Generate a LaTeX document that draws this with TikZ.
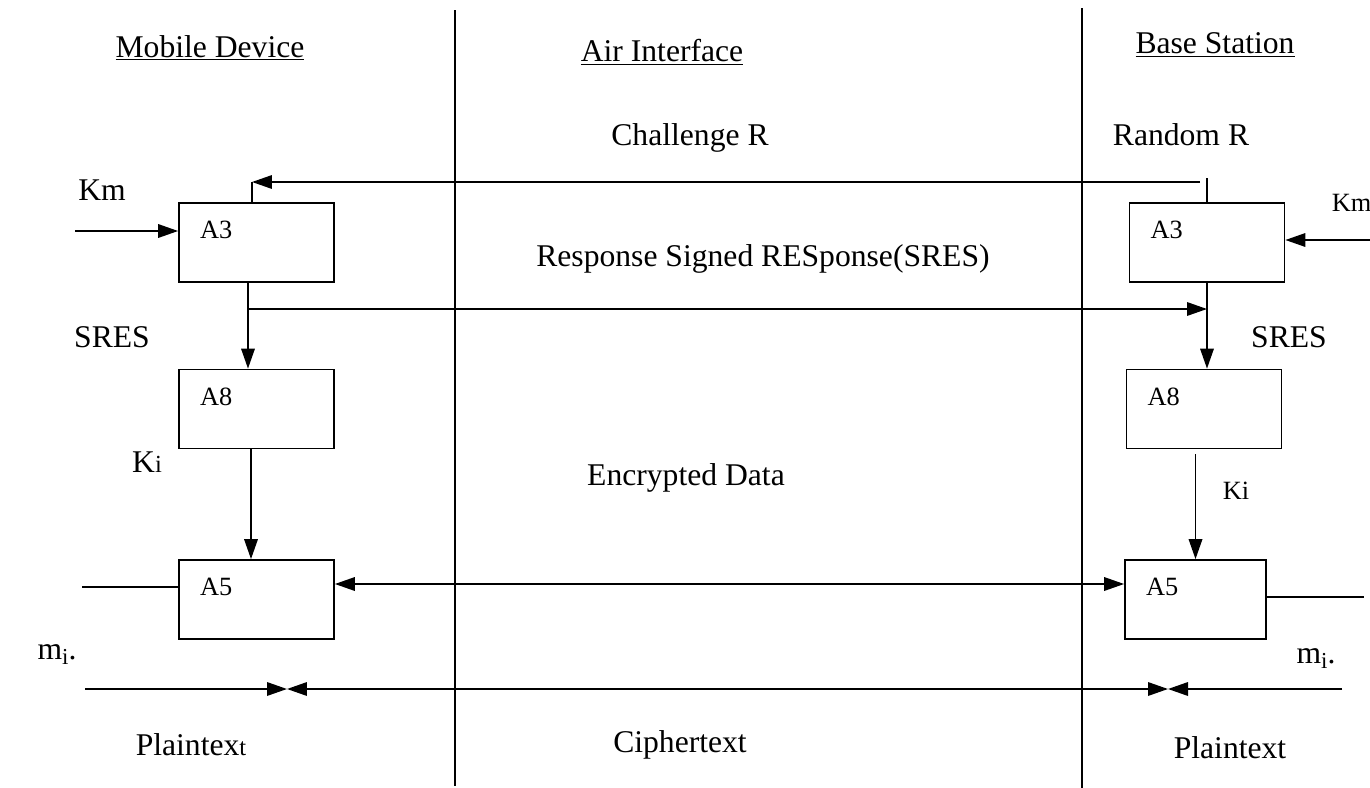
\documentclass[tikz,border=0pt]{standalone}
\usepackage{fontspec}
\setmainfont{Liberation Serif}
\usetikzlibrary{arrows.meta}

\tikzset{
  blockbox/.style={draw, line width=1pt, minimum width=3.1cm, minimum height=1.58cm, inner sep=0pt},
  boxname/.style={anchor=west, inner sep=0pt, font=\fontsize{15}{18}\selectfont},
  txt/.style={inner sep=0pt, font=\fontsize{18}{22}\selectfont},
  smalltxt/.style={inner sep=0pt, font=\fontsize{15}{18}\selectfont},
}
\newcommand{\lowi}{\raisebox{-0.35ex}{\fontsize{13}{15}\selectfont i}}

\begin{document}
\begin{tikzpicture}[x=0.02cm, y=-0.02cm, line width=1pt, >={Triangle[length=0.4cm,width=0.27cm]}]
  \useasboundingbox (0,0) rectangle (1370,788);

  % Zones
  \draw (455,10) -- (455,786);
  \draw (1082,8) -- (1082,788);
  \node[txt] (hMob) at (210,48) {\underline{Mobile Device}};
  \node[txt] (hAir) at (662,52) {\underline{Air Interface}};
  \node[txt] (hBase) at (1215,45) {\underline{Base Station}};

  % Blocks
  \node[blockbox] (mA3) at (256.5,242.5) {};
  \node[blockbox] (mA8) at (256.5,409) {};
  \node[blockbox] (mA5) at (256.5,599.5) {};
  \node[blockbox] (bA3) at (1207,242.5) {};
  \node[blockbox] (bA8) at (1204,409) {};
  \node[blockbox, minimum width=2.82cm] (bA5) at (1195.5,599.5) {};
  \node[boxname] (mA3n) at ([shift={(21,28)}]mA3.north west) {A3};
  \node[boxname] (mA8n) at ([shift={(21,28)}]mA8.north west) {A8};
  \node[boxname] (mA5n) at ([shift={(21,28)}]mA5.north west) {A5};
  \node[boxname] (bA3n) at ([shift={(21,28)}]bA3.north west) {A3};
  \node[boxname] (bA8n) at ([shift={(21,28)}]bA8.north west) {A8};
  \node[boxname] (bA5n) at ([shift={(21,28)}]bA5.north west) {A5};

  % Challenge
  \coordinate (chTop) at (1207,178);
  \coordinate (chR) at (1200,182);
  \coordinate (chL) at (252,182);
  \draw (chTop) -- (bA3.north);
  \draw[->] (chR) -- (chL);
  \draw (chL) -- (chL |- mA3.north);
  \node[txt] (chal) at (690,138) {Challenge R};
  \node[txt] (rand) at (1181,135) {Random R};

  % Keys Km
  \coordinate (kmL) at (75,231);
  \coordinate (kmR) at (1372,240);
  \draw[->] (kmL) -- (kmL -| mA3.west);
  \draw[->] (kmR) -- (kmR -| bA3.east);
  \node[txt] (kmLt) at (102,190) {Km};
  \node[smalltxt, anchor=west] (kmRt) at (1331,203) {Km};

  % Response
  \coordinate (mS) at (248,309);
  \draw (mS |- mA3.south) -- (mS);
  \draw[->] (mS) -- (mS -| bA3.south);
  \draw[->] (mS |- mA3.south) -- (mS |- mA8.north);
  \draw[->] (bA3.south) -- (bA3.south |- bA8.north);
  \node[txt] (resp) at (763,259) {Response Signed RESponse(SRES)};
  \node[txt] (sresL) at (112,337) {SRES};
  \node[txt] (sresR) at (1289,337) {SRES};

  % Keys Ki
  \draw[->] ([xshift=-0.11cm]mA8.south) -- ([xshift=-0.11cm]mA5.north);
  \draw[->] ([yshift=-0.1cm]bA5.north |- bA8.south) -- (bA5.north);
  \node[txt] (kiL) at (147,462) {K{\fontsize{14}{16}\selectfont i}};
  \node[smalltxt] (kiR) at (1236,491) {Ki};

  % Encrypted data
  \draw[<->] ([yshift=0.31cm]mA5.east) -- ([yshift=0.31cm]bA5.west);
  \node[txt] (encr) at (686,478) {Encrypted Data};
  \coordinate (inL) at (82,587);
  \coordinate (outR) at (1364,597);
  \draw (inL) -- (inL -| mA5.west);
  \draw (outR -| bA5.east) -- (outR);
  \node[txt] (miL) at (57,655) {m\lowi.};
  \node[txt] (miR) at (1316,659) {m\lowi.};

  % Plaintext / ciphertext
  \coordinate (p1) at (85,689);
  \coordinate (p2) at (287,689);
  \coordinate (p3) at (1168,689);
  \coordinate (p4) at (1342,689);
  \draw[->] (p1) -- (p2);
  \draw[<->] (p2) -- (p3);
  \draw[->] (p4) -- (p3);
  \node[txt] (plainL) at (191,745) {Plaintex{\fontsize{14}{16}\selectfont t}};
  \node[txt] (ciph) at (680,745) {Ciphertext};
  \node[txt] (plainR) at (1230,748) {Plaintext};

\end{tikzpicture}
\end{document}
